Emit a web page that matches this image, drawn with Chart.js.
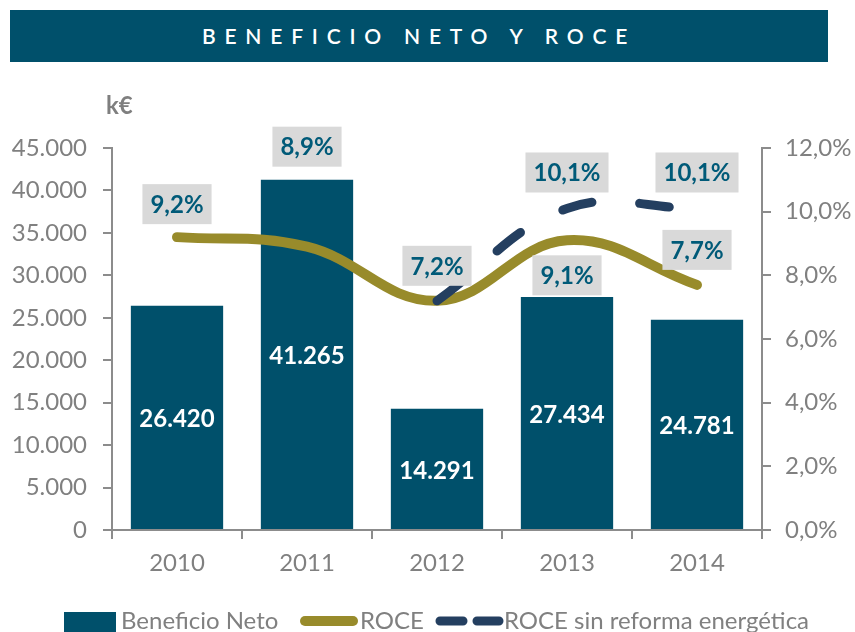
<!DOCTYPE html>
<html>
<head>
<meta charset="utf-8">
<script src="https://cdn.jsdelivr.net/npm/chart.js@4.4.1/dist/chart.umd.min.js"></script>
<style>
  body { margin: 0; background: #fff; }
  #wrap { position: relative; width: 855px; height: 632px; overflow: hidden; }
  #myChart { position: absolute; left: 0; top: 0; }
  .banner {
    position: absolute; left: 10px; top: 10px; width: 818px; height: 52px;
    background: #00506b; color: #fff; font: 600 21px Lato, sans-serif;
    letter-spacing: 8.8px; text-align: center; line-height: 52px; z-index: 2;
  }
  .unit {
    position: absolute; left: 106px; top: 90px; color: #7f7f7f;
    font: bold 24px Lato, sans-serif; z-index: 2;
  }
</style>
</head>
<body>
<div id="wrap">
  <div class="banner">BENEFICIO NETO Y ROCE</div>
  <div class="unit">k€</div>
  <canvas id="myChart" width="855" height="632"></canvas>
</div>
<script>
/* globals Chart:false */

// Datos
const years = ["2010", "2011", "2012", "2013", "2014"];
const beneficioNeto = [26420, 41265, 14291, 27434, 24781];
const roce = [9.2, 8.9, 7.2, 9.1, 7.7];
const roceSinReforma = [null, null, 7.2, 10.1, 10.1];
const sinReformaLabels = [false, false, false, true, true];

// desplazamiento vertical de las etiquetas de porcentaje (px)
const roceLabelDy = [-33, -100, -35, 35, -35];
const sinReformaLabelDy = [0, 0, 0, -36, -36];

const gray = "#808080";
const axisGray = "#8c8c8c";
const font = "Lato, sans-serif";

const fmtMiles = (n) => n.toString().replace(/\B(?=(\d{3})+(?!\d))/g, ".");
const fmtPct = (v) => v.toFixed(1).replace(".", ",") + "%";

// etiquetas de datos
const labelsPlugin = {
    id: "labels",
    afterDatasetsDraw(chart) {
        const ctx = chart.ctx;
        ctx.save();
        ctx.font = "bold 24px " + font;
        ctx.textAlign = "center";
        ctx.textBaseline = "middle";

        // valores de las barras
        chart.getDatasetMeta(0).data.forEach((bar, i) => {
            ctx.fillStyle = "#ffffff";
            ctx.fillText(fmtMiles(beneficioNeto[i]), bar.x, (bar.y + bar.base) / 2 + 2);
        });

        const box = (text, x, y) => {
            const w = ctx.measureText(text).width + 16;
            ctx.fillStyle = "#d9d9d9";
            ctx.fillRect(x - w / 2, y - 20, w, 40);
            ctx.fillStyle = "#005a78";
            ctx.fillText(text, x, y + 1);
        };

        chart.getDatasetMeta(1).data.forEach((pt, i) => {
            box(fmtPct(roce[i]), pt.x, pt.y + roceLabelDy[i]);
        });
        chart.getDatasetMeta(2).data.forEach((pt, i) => {
            if (sinReformaLabels[i]) box(fmtPct(roceSinReforma[i]), pt.x, pt.y + sinReformaLabelDy[i]);
        });
        ctx.restore();
    },
    afterDraw(chart) {
        // leyenda
        const ctx = chart.ctx;
        const ds = chart.data.datasets;
        const y = 621;
        ctx.save();
        ctx.font = "24px " + font;
        ctx.fillStyle = gray;
        ctx.textBaseline = "alphabetic";

        ctx.fillStyle = ds[0].backgroundColor;
        ctx.fillRect(64, 612, 52, 22);
        ctx.fillStyle = gray;
        ctx.fillText(ds[0].label, 121, 629);

        ctx.lineCap = "round";
        ctx.strokeStyle = ds[1].borderColor;
        ctx.lineWidth = 10;
        ctx.beginPath();
        ctx.moveTo(305, y);
        ctx.lineTo(353, y);
        ctx.stroke();
        ctx.fillText(ds[1].label, 360, 629);

        ctx.strokeStyle = ds[2].borderColor;
        ctx.lineWidth = 9;
        ctx.beginPath();
        ctx.moveTo(440, y);
        ctx.lineTo(463, y);
        ctx.moveTo(477, y);
        ctx.lineTo(499, y);
        ctx.stroke();
        ctx.fillText(ds[2].label, 504, 629);
        ctx.restore();
    },
};

const ctx = document.getElementById("myChart");
// eslint-disable-next-line no-unused-vars
const myChart = new Chart(ctx, {
    type: "bar",
    data: {
        labels: years,
        datasets: [
            {
                type: "bar",
                label: "Beneficio Neto",
                data: beneficioNeto,
                backgroundColor: "#00506b",
                yAxisID: "y",
                barPercentage: 0.71,
                categoryPercentage: 1,
                order: 3,
            },
            {
                type: "line",
                label: "ROCE",
                data: roce,
                borderColor: "#988b2b",
                backgroundColor: "#988b2b",
                borderWidth: 10,
                borderCapStyle: "round",
                tension: 0.4,
                pointRadius: 0,
                yAxisID: "y1",
                order: 2,
            },
            {
                type: "line",
                label: "ROCE sin reforma energética",
                data: roceSinReforma,
                borderColor: "#243f60",
                backgroundColor: "#243f60",
                borderWidth: 9,
                borderCapStyle: "round",
                borderDash: [30, 48],
                tension: 0.4,
                pointRadius: 0,
                spanGaps: false,
                yAxisID: "y1",
                order: 1,
            },
        ],
    },
    options: {
        responsive: false,
        devicePixelRatio: 1,
        animation: false,
        layout: { padding: { top: 148, left: 0, right: 0, bottom: 0 } },
        plugins: {
            legend: { display: false },
            tooltip: { enabled: false },
        },
        scales: {
            x: {
                offset: true,
                grid: {
                    offset: true,
                    drawOnChartArea: false,
                    color: axisGray,
                    lineWidth: 2,
                    tickLength: 9,
                },
                border: { color: axisGray, width: 2 },
                ticks: { color: gray, font: { family: font, size: 24 }, padding: 10 },
                afterFit: (s) => { s.height = 102; },
            },
            y: {
                position: "left",
                min: 0,
                max: 45000,
                ticks: {
                    stepSize: 5000,
                    color: gray,
                    font: { family: font, size: 24 },
                    padding: 16,
                    callback: (v) => fmtMiles(v),
                },
                grid: { drawOnChartArea: false, color: axisGray, lineWidth: 2, tickLength: 9 },
                border: { color: axisGray, width: 2 },
                afterFit: (s) => { s.width = 112; },
            },
            y1: {
                position: "right",
                min: 0,
                max: 12,
                ticks: {
                    stepSize: 2,
                    color: gray,
                    font: { family: font, size: 24 },
                    padding: 14,
                    callback: (v) => fmtPct(v),
                },
                grid: { drawOnChartArea: false, color: axisGray, lineWidth: 2, tickLength: 9 },
                border: { color: axisGray, width: 2 },
                afterFit: (s) => { s.width = 93; },
            },
        },
    },
    plugins: [labelsPlugin],
});
</script>
</body>
</html>
